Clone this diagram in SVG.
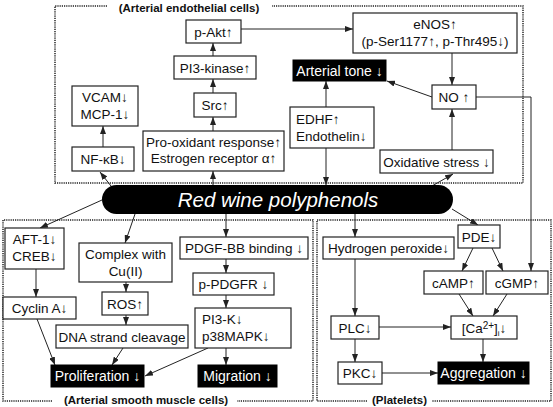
<svg xmlns="http://www.w3.org/2000/svg" width="553" height="407" viewBox="0 0 553 407">
<defs>
<style>
.box{fill:#fff;stroke:#222;stroke-width:1.2}
.blk{fill:#000;stroke:#000}
.t{font-family:"Liberation Sans",Arial,Helvetica,sans-serif;font-size:13.5px;fill:#111;text-anchor:middle}
.tl{text-anchor:start}
.w{fill:#fff;font-size:14px}
.ttl{font-family:"Liberation Sans",Arial,Helvetica,sans-serif;font-size:11.5px;font-weight:bold;fill:#111;text-anchor:middle}
.dot{fill:none;stroke:#222;stroke-width:1.5;stroke-dasharray:1.2 1}
.c{fill:none;stroke:#222;stroke-width:1;marker-end:url(#ah)}
</style>
<marker id="ah" markerUnits="userSpaceOnUse" markerWidth="8" markerHeight="6" refX="8" refY="3" orient="auto">
<path d="M0,0 L8,3 L0,6 z" fill="#222"/>
</marker>
</defs>
<rect width="553" height="407" fill="#fff"/>

<g id="regions">
<path class="dot" d="M107,6 H55 V183 H523 V6 H272"/>
<text class="ttl" x="189" y="11.5">(Arterial endothelial cells)</text>
<path class="dot" d="M52,401 H3 V220 H313 V401 H237"/>
<text class="ttl" x="146" y="404">(Arterial smooth muscle cells)</text>
<path class="dot" d="M367,401 H317 V220 H551 V401 H432"/>
<text class="ttl" x="399.5" y="404">(Platelets)</text>
</g>

<g id="connectors">
<path class="c" d="M241,29 H353"/>
<path class="c" d="M213,56 V43"/>
<path class="c" d="M213,93 V79"/>
<path class="c" d="M213,131 V117"/>
<path class="c" d="M213,185 V171"/>
<path class="c" d="M111,186 L100,172"/>
<path class="c" d="M103,147 V126"/>
<path class="c" d="M452,53 V85"/>
<path class="c" d="M432,97 L387,81"/>
<path class="c" d="M326,107 V81"/>
<path class="c" d="M326,148 V185"/>
<path class="c" d="M452,150 V109"/>
<path class="c" d="M432,186 L453,174"/>
<path class="c" d="M476,97 H531 V271"/>
<path class="c" d="M355,214 V237"/>
<path class="c" d="M452,209 L478,225"/>
<path class="c" d="M473,248 L462,271"/>
<path class="c" d="M492,248 L503,271"/>
<path class="c" d="M459,294 L473,316"/>
<path class="c" d="M507,294 L493,316"/>
<path class="c" d="M355,259 V316"/>
<path class="c" d="M379,327 H451"/>
<path class="c" d="M355,339 V362"/>
<path class="c" d="M382,373 H438"/>
<path class="c" d="M483,339 V362"/>
<path class="c" d="M102,200 L40,228"/>
<path class="c" d="M135,214 L125,243"/>
<path class="c" d="M226,214 V237"/>
<path class="c" d="M36,269 V297"/>
<path class="c" d="M126,282 V292"/>
<path class="c" d="M126,315 V325"/>
<path class="c" d="M226,259 V273"/>
<path class="c" d="M226,295 V308"/>
<path class="c" d="M226,348 V365"/>
<path class="c" d="M208,348 L145,376"/>
<path class="c" d="M37,319 L55,365"/>
<path class="c" d="M123,348 L112,365"/>
</g>

<g id="red-wine">
<rect x="102" y="185" width="351" height="29" rx="14.5" fill="#000"/>
<text class="t" x="278" y="206.5" style="fill:#fff;font-size:20.5px;font-style:italic">Red wine polyphenols</text>
</g>

<g id="p-akt"><rect class="box" x="186" y="20" width="55" height="23"/><text class="t" x="213.5" y="36.5">p-Akt↑</text></g>
<g id="pi3-kinase"><rect class="box" x="174" y="56" width="82" height="23"/><text class="t" x="215" y="72.5">PI3-kinase↑</text></g>
<g id="src"><rect class="box" x="194" y="93" width="42" height="24"/><text class="t" x="215" y="110">Src↑</text></g>
<g id="pro-oxidant"><rect class="box" x="143" y="131" width="141" height="40"/><text class="t" x="213.5" y="146.5">Pro-oxidant response↑</text><text class="t" x="213.5" y="163">Estrogen receptor α↑</text></g>
<g id="vcam"><rect class="box" x="72" y="86" width="66" height="40"/><text class="t" x="105" y="102">VCAM↓</text><text class="t" x="105" y="118.5">MCP-1↓</text></g>
<g id="nfkb"><rect class="box" x="72" y="147" width="62" height="24"/><text class="t" x="103" y="164">NF-κB↓</text></g>
<g id="enos"><rect class="box" x="353" y="13" width="164" height="40"/><text class="t" x="435" y="29">eNOS↑</text><text class="t" x="435" y="45.5">(p-Ser1177↑, p-Thr495↓)</text></g>
<g id="arterial-tone"><rect class="blk" x="293" y="60" width="93" height="21"/><text class="t w" x="339.5" y="75.5">Arterial tone ↓</text></g>
<g id="no"><rect class="box" x="432" y="85" width="44" height="24"/><text class="t" x="454" y="102">NO ↑</text></g>
<g id="edhf"><rect class="box" x="290" y="107" width="84" height="41"/><text class="t tl" x="296" y="123.5">EDHF↑</text><text class="t tl" x="296" y="140.5">Endothelin↓</text></g>
<g id="oxidative-stress"><rect class="box" x="380" y="150" width="113" height="23"/><text class="t" x="436.5" y="166.5">Oxidative stress ↓</text></g>

<g id="aft1"><rect class="box" x="5" y="228" width="59" height="41"/><text class="t" x="34.5" y="244">AFT-1↓</text><text class="t" x="34.5" y="261">CREB↓</text></g>
<g id="complex"><rect class="box" x="79" y="243" width="93" height="39"/><text class="t" x="125.5" y="259">Complex with</text><text class="t" x="125.5" y="276">Cu(II)</text></g>
<g id="pdgf-bb"><rect class="box" x="180" y="237" width="128" height="22"/><text class="t" x="244" y="252.5">PDGF-BB binding ↓</text></g>
<g id="cyclin-a"><rect class="box" x="3" y="297" width="73" height="22"/><text class="t" x="39.5" y="312.5">Cyclin A↓</text></g>
<g id="ros"><rect class="box" x="102" y="292" width="46" height="23"/><text class="t" x="125" y="308.5">ROS↑</text></g>
<g id="p-pdgfr"><rect class="box" x="193" y="273" width="81" height="22"/><text class="t" x="233.5" y="288.5">p-PDGFR ↓</text></g>
<g id="dna"><rect class="box" x="56" y="325" width="132" height="23"/><text class="t" x="122" y="341.5">DNA strand cleavage</text></g>
<g id="pi3k"><rect class="box" x="195" y="308" width="96" height="40"/><text class="t tl" x="202" y="324">PI3-K↓</text><text class="t tl" x="202" y="340.5">p38MAPK↓</text></g>
<g id="proliferation"><rect class="blk" x="51" y="365" width="93" height="22"/><text class="t w" x="97.5" y="381">Proliferation ↓</text></g>
<g id="migration"><rect class="blk" x="198" y="365" width="79" height="22"/><text class="t w" x="237.5" y="381">Migration ↓</text></g>

<g id="pde"><rect class="box" x="458" y="225" width="42" height="23"/><text class="t" x="479" y="241.5">PDE↓</text></g>
<g id="h2o2"><rect class="box" x="323" y="237" width="131" height="22"/><text class="t" x="388.5" y="252.5">Hydrogen peroxide↓</text></g>
<g id="camp"><rect class="box" x="424" y="271" width="59" height="23"/><text class="t" x="453.5" y="287.5">cAMP↑</text></g>
<g id="cgmp"><rect class="box" x="486" y="271" width="62" height="23"/><text class="t" x="517" y="287.5">cGMP↑</text></g>
<g id="plc"><rect class="box" x="331" y="316" width="48" height="23"/><text class="t" x="355" y="332.5">PLC↓</text></g>
<g id="ca"><rect class="box" x="451" y="316" width="66" height="23"/><text class="t" x="484" y="332.5">[Ca<tspan dy="-4" font-size="10">2+</tspan><tspan dy="4">]</tspan><tspan dy="3" font-size="8">i</tspan><tspan dy="-3">↓</tspan></text></g>
<g id="pkc"><rect class="box" x="338" y="362" width="44" height="22"/><text class="t" x="360" y="377.5">PKC↓</text></g>
<g id="aggregation"><rect class="blk" x="438" y="362" width="91" height="22"/><text class="t w" x="483.5" y="378">Aggregation ↓</text></g>
</svg>
